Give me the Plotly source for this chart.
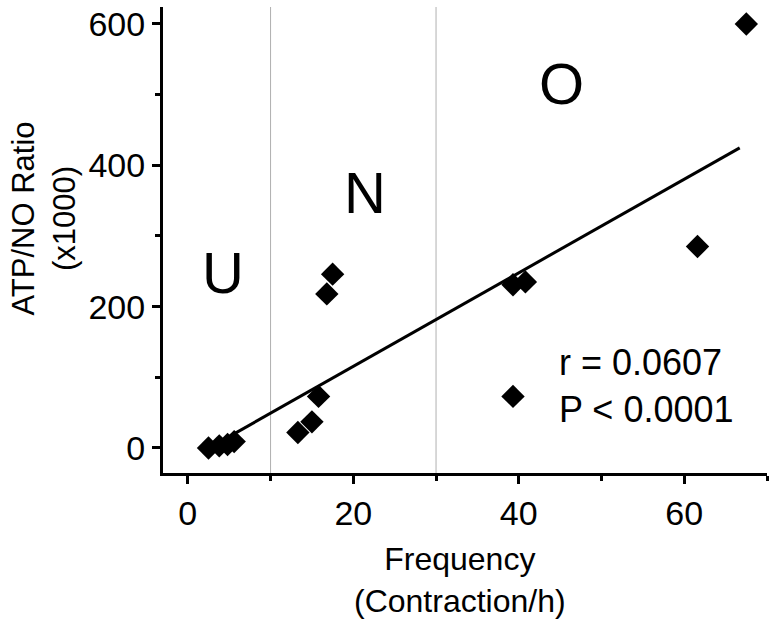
import numpy as np
import plotly.graph_objects as go

# Data
frequency = [2.5, 3.8, 4.8, 5.6, 13.3, 15.0, 15.8, 16.8, 17.5, 39.3, 39.3, 40.8, 61.6, 67.5]
atp_no_ratio = [0, 3, 5, 9, 22, 37, 73, 218, 246, 73, 231, 235, 285, 600]
fit_x_range = [5.0, 66.7]
zone_bounds = [10, 30]
zone_labels = ["U", "N", "O"]
zone_label_x = [4.2, 21.4, 45.2]
zone_label_y = [248, 361, 516]
stats_text = ["r = 0.0607", "P < 0.0001"]
x_ticks = [0, 20, 40, 60]
y_ticks = [0, 200, 400, 600]

slope, intercept = np.polyfit(frequency, atp_no_ratio, 1)
fit_x = np.array(fit_x_range)
fit_y = slope * fit_x + intercept

FONT = "Liberation Sans, Arial, sans-serif"

fig = go.Figure()
fig.add_trace(go.Scatter(x=fit_x, y=fit_y, mode="lines",
                         line=dict(color="black", width=3), showlegend=False))
fig.add_trace(go.Scatter(x=frequency, y=atp_no_ratio, mode="markers",
                         marker=dict(symbol="diamond", size=18, color="black"),
                         showlegend=False))

for xb in zone_bounds:
    fig.add_shape(type="line", x0=xb, x1=xb, xref="x", y0=0, y1=1, yref="paper",
                  line=dict(color="#b0b0b0", width=1), layer="below")

for lab, lx, ly in zip(zone_labels, zone_label_x, zone_label_y):
    fig.add_annotation(x=lx, y=ly, text=lab, showarrow=False,
                       font=dict(size=58, color="black", family=FONT),
                       xanchor="center", yanchor="middle")

fig.add_annotation(x=44.6, y=88, text="<br>".join(stats_text), showarrow=False,
                   xanchor="left", yanchor="middle", align="left",
                   font=dict(size=36, color="black", family=FONT))

# axis titles
fig.add_annotation(x=0.4917, xref="paper", y=0, yref="paper", yanchor="top",
                   yshift=-66, text="Frequency<br>(Contraction/h)", showarrow=False,
                   font=dict(size=32, color="black", family=FONT))
fig.add_annotation(x=-0.197, xref="paper", y=0.546, yref="paper", xanchor="center",
                   yanchor="middle", textangle=-90, text="ATP/NO Ratio<br>(x1000)",
                   showarrow=False, font=dict(size=31, color="black", family=FONT))

fig.update_layout(
    width=774, height=625, autosize=False,
    margin=dict(l=163, r=7, t=7, b=152),
    paper_bgcolor="white", plot_bgcolor="white",
    font=dict(family=FONT, color="black"),
    hovermode=False,
    xaxis=dict(range=[-3, 70], tickvals=x_ticks, showgrid=False, zeroline=False,
               automargin=False, ticklabeloverflow="allow",
               showline=True, linewidth=3, linecolor="black",
               ticks="outside", ticklen=8, tickwidth=3, tickcolor="black",
               tickfont=dict(size=34, family=FONT),
               minor=dict(dtick=10, tick0=0, ticks="outside", ticklen=5, tickwidth=3, tickcolor="black")),
    yaxis=dict(range=[-35.4, 624], tickvals=y_ticks, showgrid=False, zeroline=False,
               automargin=False, ticklabeloverflow="allow",
               showline=True, linewidth=3, linecolor="black",
               ticks="outside", ticklen=8, tickwidth=3, tickcolor="black",
               tickfont=dict(size=34, family=FONT),
               minor=dict(dtick=100, tick0=0, ticks="outside", ticklen=5, tickwidth=3, tickcolor="black")),
)

fig.write_html("out.html", config={"displayModeBar": False},
               post_script="document.body.style.margin='0';document.body.style.padding='0';")
